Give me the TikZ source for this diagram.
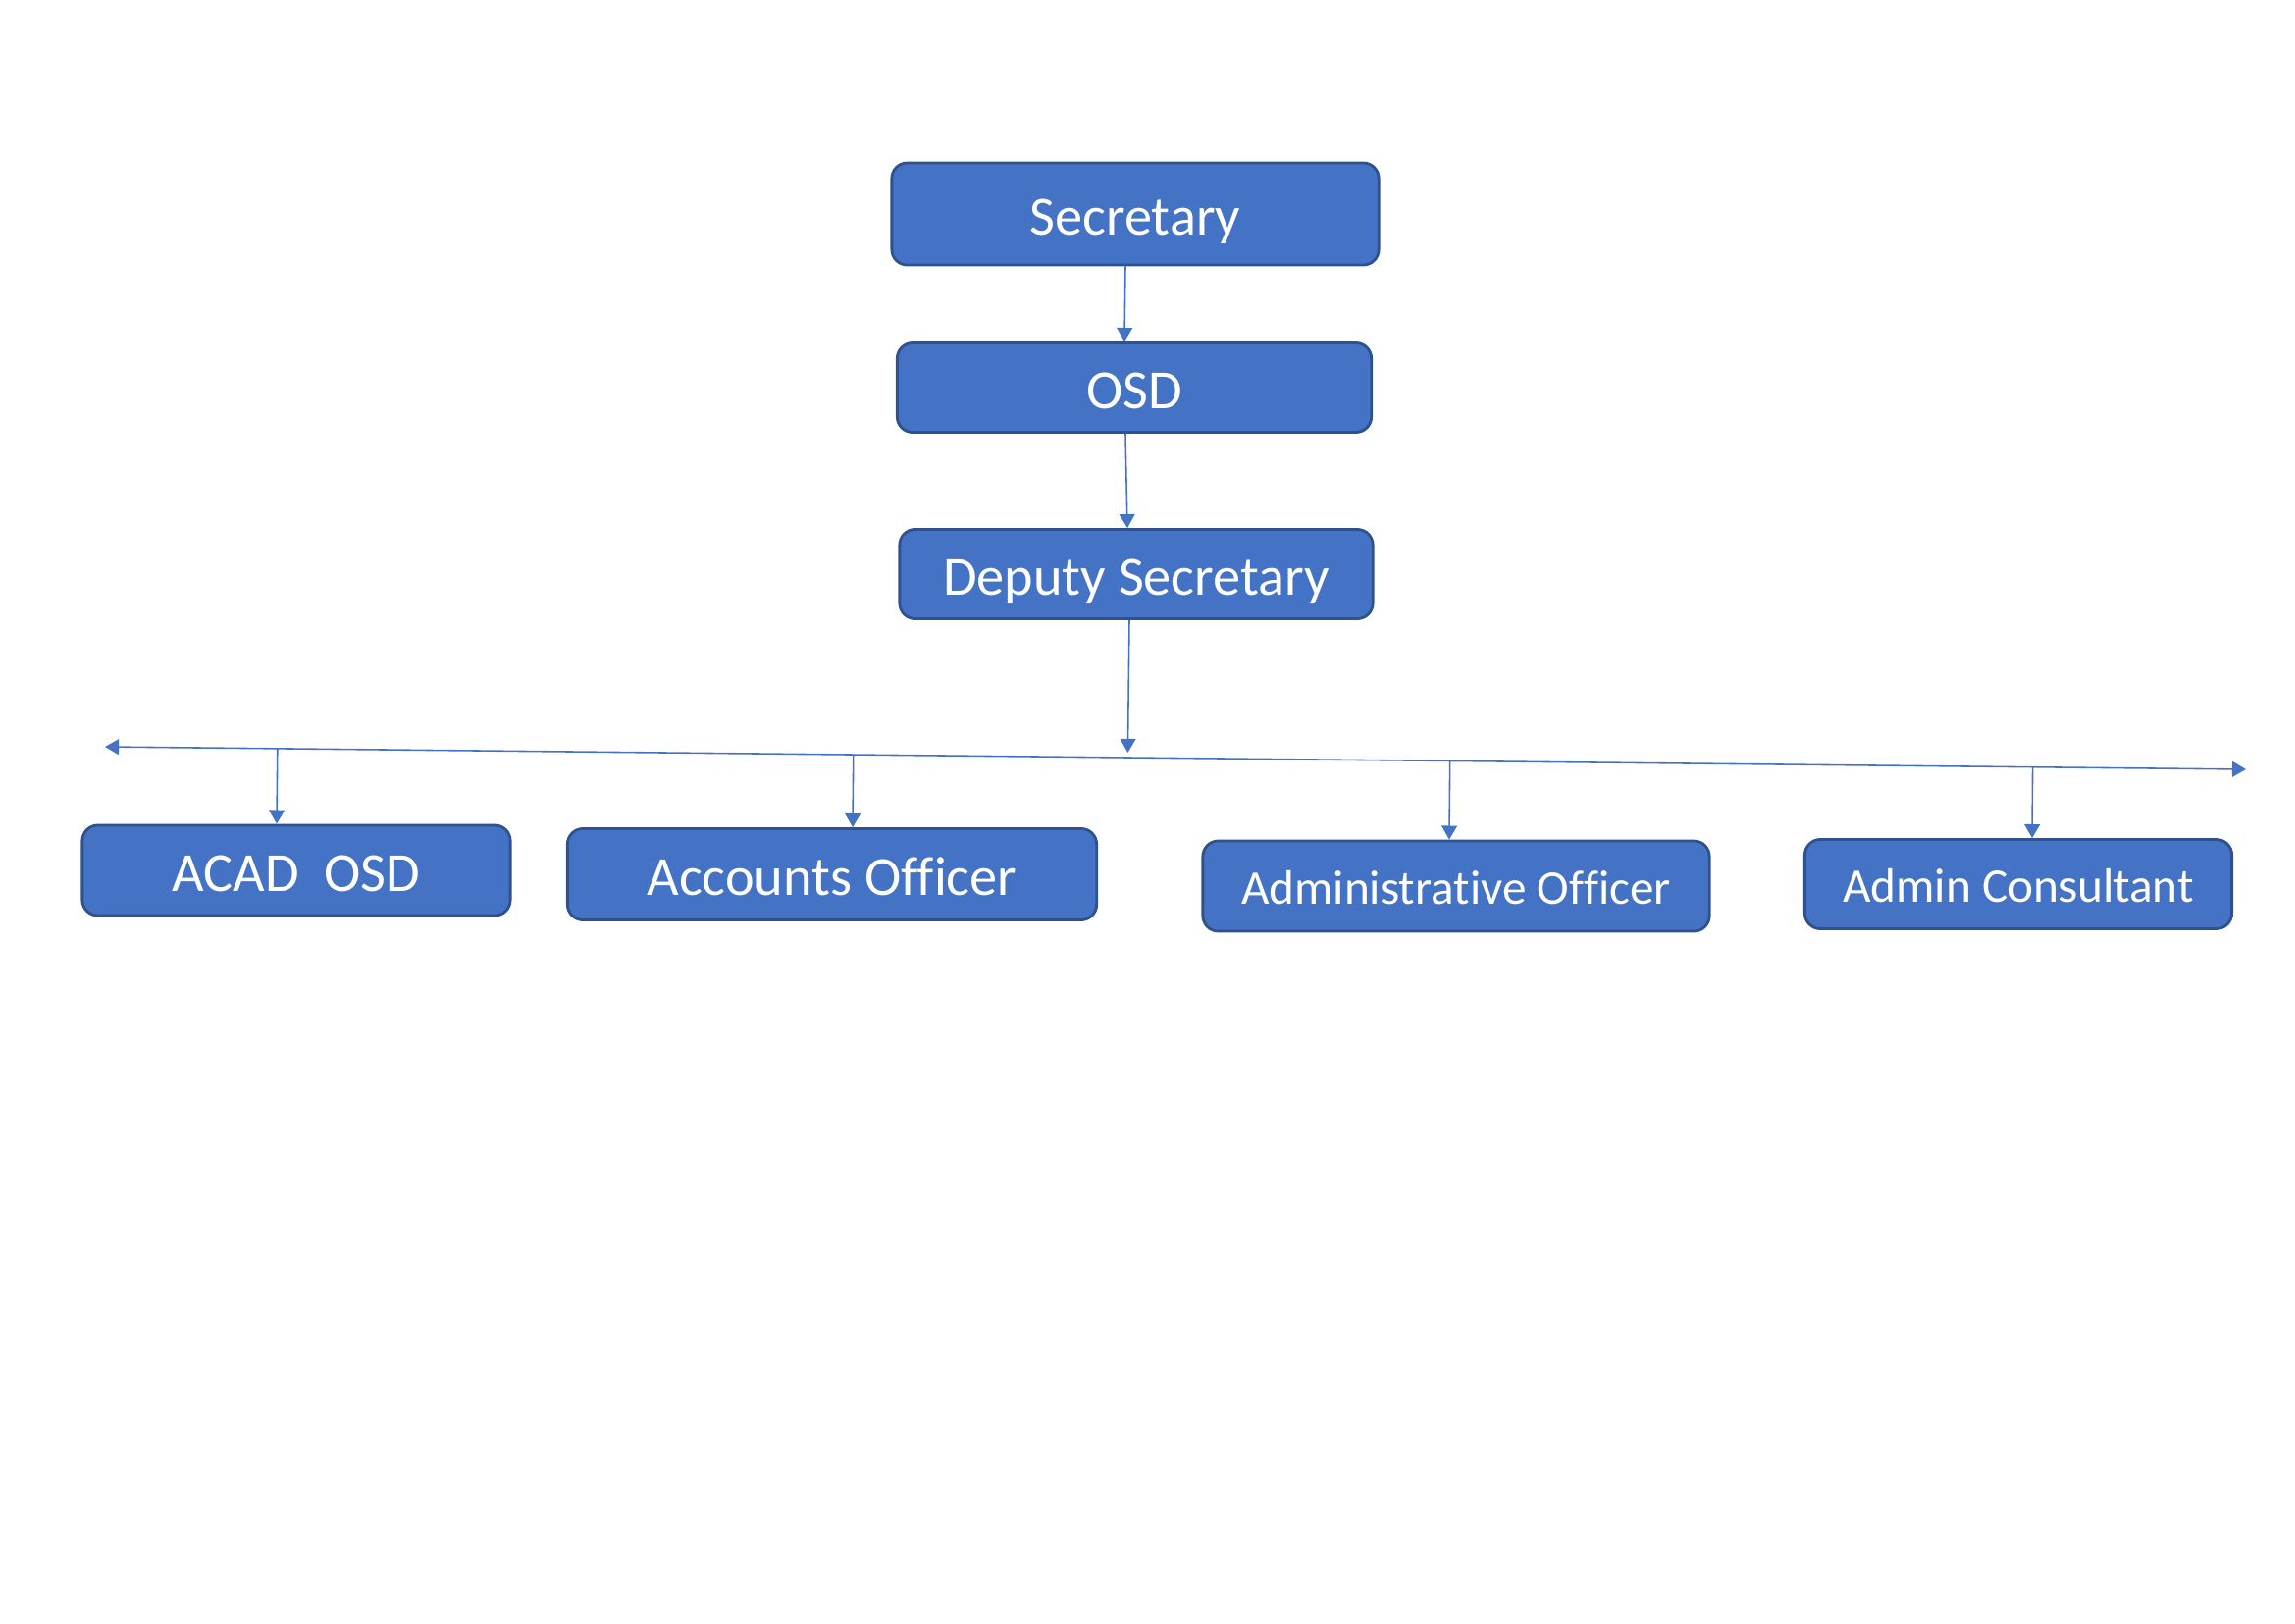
\documentclass[tikz,border=0pt]{standalone}
\usepackage{fontspec}
\setmainfont{Carlito}[Ligatures=NoCommon]
\usetikzlibrary{arrows.meta}
\usetikzlibrary{calc}

\definecolor{boxblue}{HTML}{4472C4}
\definecolor{boxedge}{HTML}{2F528F}

\begin{document}
\begin{tikzpicture}[x=0.01cm,y=-0.01cm,
        post/.style={draw=boxedge,fill=boxblue,line width=0.8pt,rounded corners=4.5pt,text=white,inner sep=0pt,
            text height=12pt,text depth=0pt,font=\fontsize{16}{19}\selectfont},
        smallpost/.style={post,text height=10.5pt,font=\fontsize{14}{17}\selectfont},
        link/.style={boxblue,line width=0.45pt,-{Triangle[width=4.5pt,length=4pt]}}]
        \useasboundingbox (0,0) rectangle (2339,1654);
        % top of the chain
        \node[post,minimum width=4.96cm,minimum height=1.04cm] (secretary) at (1157,218) {Secretary};
        \node[post,minimum width=4.83cm,minimum height=0.91cm] (osd) at (1156,395) {OSD};
        \node[post,minimum width=4.82cm,minimum height=0.91cm] (deputy) at (1158,585) {Deputy Secretary};
        % officers
        \node[post,minimum width=4.36cm,minimum height=0.92cm] (acad) at (302,887) {ACAD\ \ OSD};
        \node[post,minimum width=5.39cm,minimum height=0.93cm] (accounts) at (848,891) {Accounts Officer};
        \node[smallpost,minimum width=5.16cm,minimum height=0.92cm] (adminofficer) at (1484,903) {Administrative Officer};
        \node[smallpost,minimum width=4.35cm,minimum height=0.91cm] (consultant) at (2057,901) {Admin Consultant};
        \coordinate (busL) at (107,761);
        \coordinate (busR) at (2289,784);
        \draw[link] ([xshift=-1mm]secretary.south) -- ([xshift=-1mm]osd.north);
        \draw[link] ([xshift=-0.9mm]osd.south) -- ([xshift=-0.9mm]deputy.north);
        \draw[link] ([xshift=-0.7mm]deputy.south) -- ($(busL)!([xshift=-0.7mm]deputy.south)!(busR)+(0,-5)$);
        \draw[boxblue,line width=0.45pt,{Triangle[width=4.5pt,length=4pt]}-{Triangle[width=4.5pt,length=4pt]}] (busL) -- (busR);
        \foreach \n/\dx in {acad/-2mm,accounts/2.1mm,adminofficer/-0.7mm,consultant/1.4mm}
            \draw[link] ($(busL)!([xshift=\dx]\n.north)!(busR)$) -- ([xshift=\dx]\n.north);
\end{tikzpicture}
\end{document}
